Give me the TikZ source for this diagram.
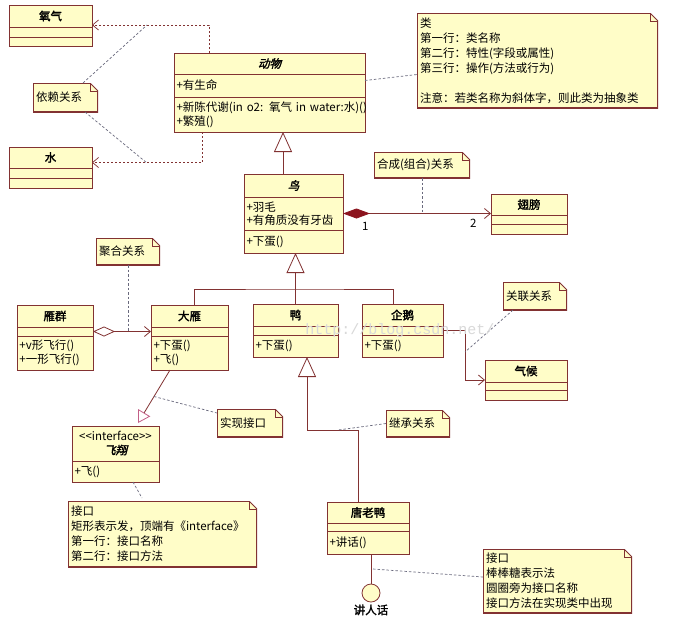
\documentclass[tikz,border=0pt]{standalone}
\usepackage{fontspec}
\setmainfont{Noto Sans CJK SC}
\newfontfamily\namefont[FakeBold=2]{Noto Sans CJK SC}
\newfontfamily\abstractfont[FakeBold=2,FakeSlant=0.25]{Noto Sans CJK SC}
\newfontfamily\markfont{Liberation Mono}
\usetikzlibrary{positioning, arrows.meta, calc}

\definecolor{clsfill}{RGB}{255,253,200}
\definecolor{clsline}{RGB}{130,50,50}
\definecolor{linkgray}{RGB}{105,105,125}
\definecolor{realpink}{RGB}{195,95,135}
\definecolor{compred}{RGB}{140,20,30}

\begin{document}
\begin{tikzpicture}[
		x=1pt, y=-1pt,
		font=\fontsize{11.5pt}{13.5pt}\selectfont,
		% Style for the class compartments
		cls/.style={draw=clsline, fill=clsfill, line width=0.8pt, outer sep=0pt, inner ysep=1pt},
		cls name/.style={cls, anchor=north west, inner xsep=2pt, align=center, font=\fontsize{11.5pt}{13.5pt}\namefont},
		abstract name/.style={cls name, font=\fontsize{11.5pt}{13.5pt}\abstractfont},
		cls body/.style={cls, inner xsep=2.5pt, align=left},
		% Style for the notes with a folded corner
		note/.style={fill=clsfill, anchor=north west, outer sep=0pt, inner xsep=3pt, inner ysep=2pt, align=left,
			font=\fontsize{11.5pt}{15pt}\selectfont,
			path picture={
				\fill[white] ([xshift=-8pt]path picture bounding box.north east) -- (path picture bounding box.north east) -- ([yshift=-8pt]path picture bounding box.north east) -- cycle;
				\draw[clsline, line width=1.6pt] ([xshift=-8pt]path picture bounding box.north east) -- (path picture bounding box.north west) -- (path picture bounding box.south west) -- (path picture bounding box.south east) -- ([yshift=-8pt]path picture bounding box.north east);
				\draw[clsline, line width=0.8pt] ([xshift=-8pt]path picture bounding box.north east) -- ([yshift=-8pt]path picture bounding box.north east);
				\draw[clsline, line width=0.6pt] ([xshift=-8pt]path picture bounding box.north east) |- ([yshift=-8pt]path picture bounding box.north east);
			}},
		% Connectors
		link/.style={draw=clsline, line width=0.8pt},
		dep/.style={draw=clsline, line width=0.7pt, dash pattern=on 2pt off 2pt, -{Straight Barb[length=6pt, width=10pt]}},
		note link/.style={draw=linkgray, line width=0.7pt, dash pattern=on 2.5pt off 2pt},
		gen/.style={link, -{Triangle[open, length=20pt, width=18pt]}},
		real/.style={link, -{Triangle[open, length=12pt, width=14pt, color=realpink]}},
		assoc/.style={link, -{Straight Barb[length=6pt, width=10pt]}},
		comp/.style={link, {Diamond[length=27pt, width=10pt, color=compred]}-{Straight Barb[length=6pt, width=10pt]}},
		agg/.style={link, {Diamond[open, length=22pt, width=10pt]}-{Straight Barb[length=6pt, width=10pt]}},
		mult/.style={inner sep=1pt},
		lolli/.style={circle, draw=clsline, fill=clsfill, line width=0.8pt, minimum size=18pt, inner sep=0pt},
		watermark/.style={text=gray!30, font=\fontsize{15pt}{15pt}\markfont}
		]

	\fill[white] (0,0) rectangle (692,627);
	\useasboundingbox (0,0) rectangle (692,627);

	% ==============================================================================
	% NOTES
	% ==============================================================================
	\node[note, minimum width=65pt, minimum height=29pt, text width=59pt] (DepN) at (33,83) {依赖关系};
	\node[note, minimum width=241pt, minimum height=95pt, text width=235pt] (ClassN) at (417,13) {
			类\\
			第一行：类名称\\
			第二行：特性(字段或属性)\\
			第三行：操作(方法或行为)\\[15pt]
			注意：若类名称为斜体字，则此类为抽象类
		};
	\node[note, minimum width=96pt, minimum height=26pt, text width=90pt] (CompN) at (374,152) {合成(组合)关系};
	\node[note, minimum width=64pt, minimum height=27pt, text width=58pt] (AggN) at (96,238) {聚合关系};
	\node[note, minimum width=64pt, minimum height=28pt, text width=58pt] (AssocN) at (503,282) {关联关系};
	\node[note, minimum width=66pt, minimum height=28pt, text width=60pt] (RealN) at (217,409) {实现接口};
	\node[note, minimum width=64pt, minimum height=27pt, text width=58pt] (InhN) at (386,410) {继承关系};
	\node[note, minimum width=189pt, minimum height=66pt, text width=183pt] (IfN) at (68,501) {
			接口\\
			\mbox{矩形表示发，顶端有《interface》}\\
			第一行：接口名称\\
			第二行：接口方法
		};
	\node[note, minimum width=149pt, minimum height=64pt, text width=143pt] (LolliN) at (483,549) {
			接口\\
			棒棒糖表示法\\
			圆圈旁为接口名称\\
			接口方法在实现类中出现
		};

	% ==============================================================================
	% CLASSES
	% ==============================================================================
	% 氧气
	\node[cls name, minimum width=83pt, minimum height=22pt] (O2) at (9,5) {氧气};
	\node[cls body, text width=78pt, minimum height=10pt, below=0pt of O2] (O2-a) {};
	\node[cls body, text width=78pt, minimum height=9pt, below=0pt of O2-a] (O2-o) {};

	% 水
	\node[cls name, minimum width=83pt, minimum height=21pt] (W) at (9,147) {水};
	\node[cls body, text width=78pt, minimum height=10pt, below=0pt of W] (W-a) {};
	\node[cls body, text width=78pt, minimum height=10pt, below=0pt of W-a] (W-o) {};

	% 动物
	\node[abstract name, minimum width=191pt, minimum height=21pt] (Ani) at (174,53) {动物};
	\node[cls body, text width=186pt, minimum height=23pt, below=0pt of Ani] (Ani-a) {+有生命};
	\node[cls body, text width=186pt, minimum height=35pt, below=0pt of Ani-a] (Ani-o) {\mbox{+新陈代谢(in o2: 氧气 in water:水)()}\\+繁殖()};

	% 鸟
	\node[abstract name, minimum width=99pt, minimum height=23pt] (Bird) at (244,174) {鸟};
	\node[cls body, text width=94pt, minimum height=33pt, below=0pt of Bird] (Bird-a) {+羽毛\\+有角质没有牙齿};
	\node[cls body, text width=94pt, minimum height=23pt, below=0pt of Bird-a] (Bird-o) {+下蛋()};

	% 翅膀
	\node[cls name, minimum width=76pt, minimum height=21pt] (Wing) at (491,194) {翅膀};
	\node[cls body, text width=71pt, minimum height=9pt, below=0pt of Wing] (Wing-a) {};
	\node[cls body, text width=71pt, minimum height=10pt, below=0pt of Wing-a] (Wing-o) {};

	% 雁群
	\node[cls name, minimum width=76pt, minimum height=22pt] (Flock) at (17,305) {雁群};
	\node[cls body, text width=71pt, minimum height=9pt, below=0pt of Flock] (Flock-a) {};
	\node[cls body, text width=71pt, minimum height=34pt, below=0pt of Flock-a] (Flock-o) {+v形飞行()\\+一形飞行()};

	% 大雁
	\node[cls name, minimum width=77pt, minimum height=22pt] (WG) at (151,305) {大雁};
	\node[cls body, text width=72pt, minimum height=9pt, below=0pt of WG] (WG-a) {};
	\node[cls body, text width=72pt, minimum height=34pt, below=0pt of WG-a] (WG-o) {+下蛋()\\+飞()};

	% 鸭
	\node[cls name, minimum width=85pt, minimum height=22pt] (Duck) at (253,304) {鸭};
	\node[cls body, text width=80pt, minimum height=9pt, below=0pt of Duck] (Duck-a) {};
	\node[cls body, text width=80pt, minimum height=22pt, below=0pt of Duck-a] (Duck-o) {+下蛋()};

	% 企鹅
	\node[cls name, minimum width=81pt, minimum height=22pt] (Pen) at (362,304) {企鹅};
	\node[cls body, text width=76pt, minimum height=9pt, below=0pt of Pen] (Pen-a) {};
	\node[cls body, text width=76pt, minimum height=22pt, below=0pt of Pen-a] (Pen-o) {+下蛋()};

	% 气候
	\node[cls name, minimum width=82pt, minimum height=22pt] (Cli) at (485,360) {气候};
	\node[cls body, text width=77pt, minimum height=8pt, below=0pt of Cli] (Cli-a) {};
	\node[cls body, text width=77pt, minimum height=10pt, below=0pt of Cli-a] (Cli-o) {};

	% 唐老鸭
	\node[cls name, minimum width=82pt, minimum height=21pt] (TD) at (327,502) {唐老鸭};
	\node[cls body, text width=77pt, minimum height=8pt, below=0pt of TD] (TD-a) {};
	\node[cls body, text width=77pt, minimum height=23pt, below=0pt of TD-a] (TD-o) {+讲话()};

	% 飞翔 (interface)
	\node[abstract name, minimum width=87pt, minimum height=35pt] (Fly) at (72,426) {{\normalfont <{}<interface>{}>}\\飞翔};
	\node[cls body, text width=82pt, minimum height=21pt, below=0pt of Fly] (Fly-o) {+飞()};

	% Lollipop interface
	\node[lolli] (Talk) at (371,593) {};
	\node[font=\fontsize{11.5pt}{13.5pt}\namefont, inner sep=1pt, below=1pt of Talk] (TalkL) {讲人话};

	% ==============================================================================
	% CONNECTORS
	% ==============================================================================
	% Dependencies
	\draw[dep] ([xshift=35pt]Ani.north west) |- ([yshift=-9pt]O2.east);
	\draw[dep] ([xshift=28pt]Ani-o.south west) |- ([yshift=-5pt]W.east);
	\coordinate (o2pt) at (147,25);
	\coordinate (wpt) at (147,163);
	\draw[note link] ([xshift=50pt]DepN.north west) -- (o2pt);
	\draw[note link] ([xshift=52pt]DepN.south west) -- (wpt);

	% Class note
	\draw[note link] ([yshift=5pt]Ani-a.east) -- ([yshift=-14pt]ClassN.west);

	% Composition
	\draw[comp] (Bird-a.east) -- (Bird-a.east -| Wing.west)
		node[mult, pos=0.15, below=7pt] {1}
		node[mult, pos=0.88, below=4pt] {2};
	\draw[note link] (CompN.south) -- (CompN.south |- Bird-a.east);

	% Generalization
	\draw[gen] ([xshift=39pt]Bird.north west) -- ([xshift=39pt]Bird.north west |- Ani-o.south);
	\coordinate (fork) at ([yshift=15pt]Duck.north);
	\draw[gen] (Duck.north) -- (Duck.north |- Bird-o.south);
	\draw[link] ([xshift=43pt]WG.north west) |- (fork) -| ([xshift=31pt]Pen.north west);
	\draw[gen] ([xshift=31pt]TD.north west) |- ([xshift=54pt, yshift=-73pt]Duck-o.south west) -- ([xshift=54pt]Duck-o.south west);
	\coordinate (inhpt) at (338,430);
	\draw[note link] (InhN.west) -- (inhpt);

	% Aggregation
	\draw[agg] (Flock-a.east) -- (Flock-a.east -| WG.west);
	\draw[note link] (AggN.south) -- (AggN.south |- Flock-a.east);

	% Association
	\draw[assoc] (Pen-a.east) -- ([xshift=22pt]Pen-a.east) |- ([yshift=2pt]Cli.south west);
	\coordinate (assocpt) at (465,352);
	\draw[note link] ([xshift=10pt]AssocN.south west) -- (assocpt);

	% Realization
	\coordinate (realA) at ([xshift=19pt]WG-o.south west);
	\coordinate (realB) at ([xshift=66pt, yshift=3pt]Fly.north west);
	\draw[real] (realA) -- (realB);
	\draw[note link] ($(realA)!0.5!(realB)$) -- ([yshift=10pt]RealN.west);
	\draw[note link] ([xshift=61pt]Fly-o.south west) -- ([xshift=74pt, yshift=3pt]IfN.north west);

	% Lollipop
	\draw[link] (Talk.north |- TD-o.south) -- (Talk.north);
	\coordinate (lollipt) at (373,569);
	\draw[note link] (lollipt) -- ([yshift=-28pt]LolliN.north west);

	% Watermark
	\node[watermark] (wm) at (400,331) {http://blog.csdn.net/};
\end{tikzpicture}
\end{document}
